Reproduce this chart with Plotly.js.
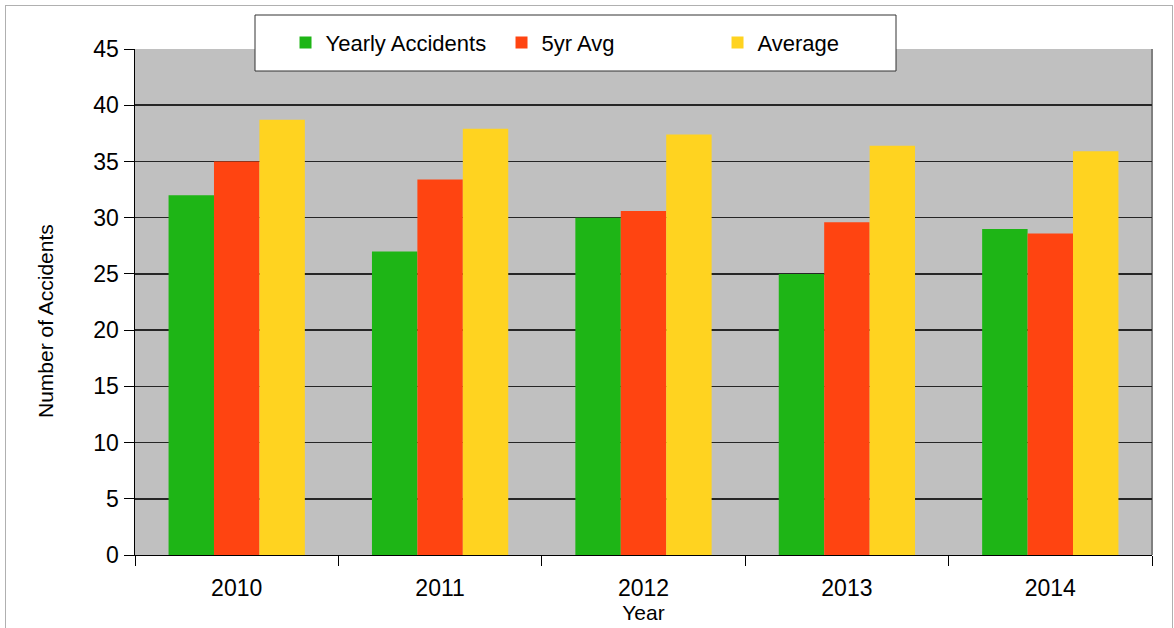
<!DOCTYPE html>
<html>
<head>
<meta charset="utf-8">
<script src="https://cdn.plot.ly/plotly-3.0.1.min.js"></script>
<style>
  html, body { margin: 0; padding: 0; background: #ffffff; }
  #chart { width: 1174px; height: 628px; position: relative; }
  #frame { position: absolute; left: 5px; top: 5px; width: 1168px; height: 630px; border: 1px solid #b0b0b0; box-sizing: border-box; pointer-events: none; }
</style>
</head>
<body>
<div id="chart"></div>
<div id="frame"></div>
<script>
const years = ['2010', '2011', '2012', '2013', '2014'];
const yearlyAccidents = [32, 27, 30, 25, 29];
const fiveYrAvg = [35, 33.4, 30.6, 29.6, 28.6];
const average = [38.7, 37.9, 37.4, 36.4, 35.9];
const seriesNames = ['Yearly Accidents', '5yr Avg', 'Average'];
const seriesColors = ['#1eb516', '#ff4411', '#ffd320'];
const yTicks = [0, 5, 10, 15, 20, 25, 30, 35, 40, 45];

const seriesValues = [yearlyAccidents, fiveYrAvg, average];
const traces = seriesValues.map((vals, i) => ({
  type: 'bar',
  x: years,
  y: vals,
  name: seriesNames[i],
  marker: { color: seriesColors[i], line: { width: 0 } },
  hoverinfo: 'x+y+name'
}));

const font = { family: 'Liberation Sans, Arial, sans-serif', color: '#000000' };

const layout = {
  width: 1174,
  height: 628,
  margin: { l: 135, r: 22, t: 49, b: 73 },
  paper_bgcolor: '#ffffff',
  plot_bgcolor: '#c0c0c0',
  font: Object.assign({ size: 22 }, font),
  barmode: 'group',
  bargap: 0.33,
  bargroupgap: 0,
  showlegend: true,
  legend: {
    orientation: 'h',
    x: 0.148,
    y: 1.054,
    xanchor: 'left',
    yanchor: 'top',
    bgcolor: 'rgba(0,0,0,0)',
    borderwidth: 0,
    entrywidth: 171,
    entrywidthmode: 'pixels',
    font: Object.assign({ size: 22 }, font),
    traceorder: 'normal'
  },
  shapes: [
    {
      type: 'rect', xref: 'paper', yref: 'paper', layer: 'above',
      x0: (255 - 135) / 1017, x1: (896 - 135) / 1017,
      y0: (555 - 71) / 506, y1: (555 - 15) / 506,
      fillcolor: '#ffffff', line: { color: '#333333', width: 1 }
    },
    {
      type: 'line', xref: 'paper', yref: 'paper', layer: 'below',
      x0: 1, x1: 1, y0: 0, y1: 1,
      line: { color: '#808080', width: 2 }
    }
  ],
  annotations: [
    {
      text: 'Number of Accidents', textangle: -90,
      xref: 'paper', yref: 'paper',
      x: (45 - 135) / 1017, y: (555 - 321) / 506,
      xanchor: 'center', yanchor: 'middle', showarrow: false,
      font: Object.assign({ size: 21 }, font)
    }
  ],
  xaxis: {
    type: 'category',
    tickson: 'boundaries',
    ticks: 'outside',
    ticklen: 10,
    tickwidth: 1,
    tickcolor: '#000000',
    showline: true,
    linecolor: '#000000',
    linewidth: 1,
    showgrid: false,
    tickfont: Object.assign({ size: 23 }, font),
    ticklabelstandoff: 12,
    title: { text: 'Year', font: Object.assign({ size: 21 }, font), standoff: 0 }
  },
  yaxis: {
    range: [0, 45],
    tickvals: yTicks,
    ticktext: yTicks.map(String),
    ticks: 'outside',
    ticklen: 10,
    tickwidth: 1,
    tickcolor: '#000000',
    showline: true,
    linecolor: '#000000',
    linewidth: 1.5,
    showgrid: true,
    gridcolor: '#262626',
    gridwidth: 1.5,
    zeroline: false,
    tickfont: Object.assign({ size: 23 }, font)
  }
};

Plotly.newPlot('chart', traces, layout, { displayModeBar: false, staticPlot: true });
</script>
</body>
</html>
